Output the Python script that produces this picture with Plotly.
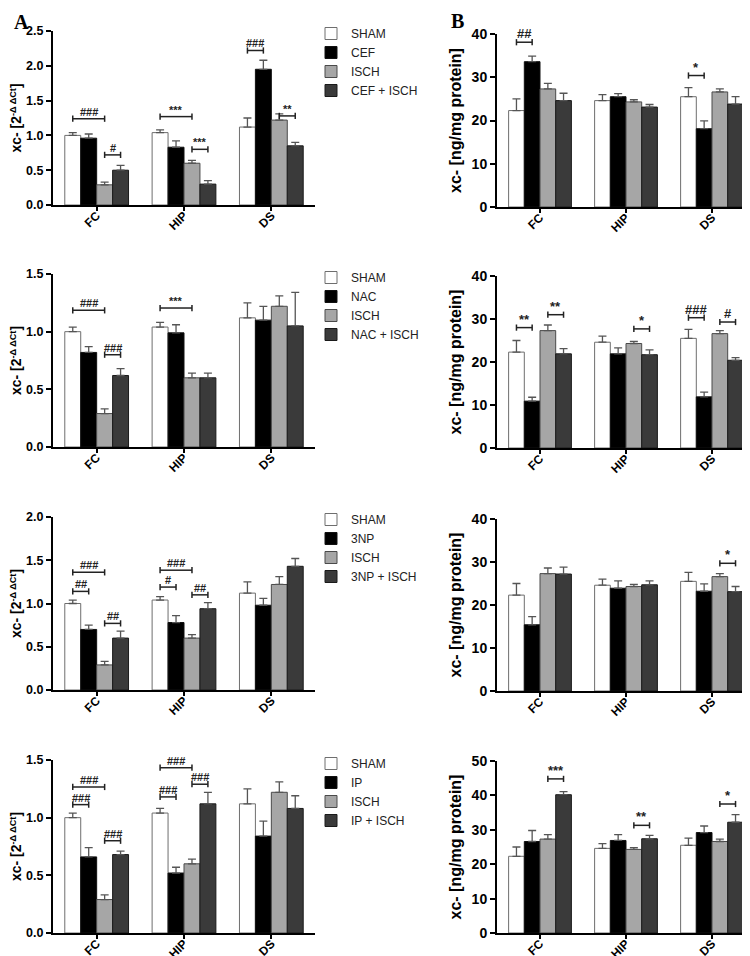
import plotly.graph_objects as go

# ---------------- data ----------------
regions = ["FC", "HIP", "DS"]
treatments = ["CEF", "NAC", "3NP", "IP"]

# shared control groups (same animals in every row)
sham_a = [1.00, 1.04, 1.12]
sham_a_sem = [0.04, 0.04, 0.13]
isch_a = [0.29, 0.60, 1.22]
isch_a_sem = [0.04, 0.04, 0.09]
sham_b = [22.3, 24.6, 25.5]
sham_b_sem = [2.7, 1.4, 2.1]
isch_b = [27.3, 24.3, 26.6]
isch_b_sem = [1.3, 0.5, 0.7]

# treatment groups, panel A (2^-ddCt)
cef_a = [0.96, 0.83, 1.95]
cef_a_sem = [0.06, 0.09, 0.13]
cef_isch_a = [0.50, 0.30, 0.85]
cef_isch_a_sem = [0.07, 0.05, 0.05]
nac_a = [0.82, 0.99, 1.10]
nac_a_sem = [0.05, 0.07, 0.12]
nac_isch_a = [0.62, 0.60, 1.05]
nac_isch_a_sem = [0.06, 0.04, 0.29]
np3_a = [0.70, 0.78, 0.98]
np3_a_sem = [0.05, 0.08, 0.08]
np3_isch_a = [0.60, 0.94, 1.43]
np3_isch_a_sem = [0.08, 0.07, 0.09]
ip_a = [0.66, 0.52, 0.84]
ip_a_sem = [0.08, 0.05, 0.13]
ip_isch_a = [0.68, 1.12, 1.08]
ip_isch_a_sem = [0.03, 0.10, 0.11]

# treatment groups, panel B (ng/mg protein)
cef_b = [33.6, 25.5, 18.1]
cef_b_sem = [1.3, 0.7, 1.8]
cef_isch_b = [24.6, 23.1, 23.8]
cef_isch_b_sem = [1.7, 0.6, 1.7]
nac_b = [10.9, 21.9, 11.9]
nac_b_sem = [0.9, 1.4, 1.1]
nac_isch_b = [21.9, 21.7, 20.4]
nac_isch_b_sem = [1.2, 1.1, 0.6]
np3_b = [15.4, 23.9, 23.2]
np3_b_sem = [1.9, 1.7, 1.7]
np3_isch_b = [27.2, 24.7, 23.1]
np3_isch_b_sem = [1.6, 0.9, 1.2]
ip_b = [26.6, 26.9, 29.2]
ip_b_sem = [3.2, 1.7, 1.9]
ip_isch_b = [40.2, 27.4, 32.2]
ip_isch_b_sem = [0.9, 1.0, 2.2]

a_ymax = [2.5, 1.5, 2.0, 1.5]
b_ymax = [40, 40, 40, 50]

# significance brackets: (region index, group i, group j, height, label)
brackets_a = [
    [(0, 0, 2, 1.24, "###"), (0, 2, 3, 0.72, "#"), (1, 0, 2, 1.27, "***"),
     (1, 2, 3, 0.80, "***"), (2, 0, 1, 2.22, "###"), (2, 2, 3, 1.28, "**")],
    [(0, 0, 2, 1.185, "###"), (0, 2, 3, 0.80, "###"), (1, 0, 2, 1.205, "***")],
    [(0, 0, 2, 1.36, "###"), (0, 0, 1, 1.14, "##"), (0, 2, 3, 0.77, "##"),
     (1, 0, 2, 1.385, "###"), (1, 0, 1, 1.19, "#"), (1, 2, 3, 1.10, "##")],
    [(0, 0, 2, 1.266, "###"), (0, 0, 1, 1.113, "###"), (0, 2, 3, 0.80, "###"),
     (1, 0, 2, 1.433, "###"), (1, 0, 1, 1.18, "###"), (1, 2, 3, 1.29, "###")],
]
brackets_b = [
    [(0, 0, 1, 38.1, "##"), (2, 0, 1, 30.4, "*")],
    [(0, 0, 1, 28.0, "**"), (0, 2, 3, 31.0, "**"), (1, 2, 3, 27.7, "*"),
     (2, 0, 1, 30.3, "###"), (2, 2, 3, 29.3, "#")],
    [(2, 2, 3, 29.7, "*")],
    [(0, 2, 3, 44.8, "***"), (1, 2, 3, 31.3, "**"), (2, 2, 3, 37.5, "*")],
]

rows_a = [
    [(sham_a, sham_a_sem), (cef_a, cef_a_sem), (isch_a, isch_a_sem), (cef_isch_a, cef_isch_a_sem)],
    [(sham_a, sham_a_sem), (nac_a, nac_a_sem), (isch_a, isch_a_sem), (nac_isch_a, nac_isch_a_sem)],
    [(sham_a, sham_a_sem), (np3_a, np3_a_sem), (isch_a, isch_a_sem), (np3_isch_a, np3_isch_a_sem)],
    [(sham_a, sham_a_sem), (ip_a, ip_a_sem), (isch_a, isch_a_sem), (ip_isch_a, ip_isch_a_sem)],
]
rows_b = [
    [(sham_b, sham_b_sem), (cef_b, cef_b_sem), (isch_b, isch_b_sem), (cef_isch_b, cef_isch_b_sem)],
    [(sham_b, sham_b_sem), (nac_b, nac_b_sem), (isch_b, isch_b_sem), (nac_isch_b, nac_isch_b_sem)],
    [(sham_b, sham_b_sem), (np3_b, np3_b_sem), (isch_b, isch_b_sem), (np3_isch_b, np3_isch_b_sem)],
    [(sham_b, sham_b_sem), (ip_b, ip_b_sem), (isch_b, isch_b_sem), (ip_isch_b, ip_isch_b_sem)],
]

# ---------------- style ----------------
W, H = 750, 956
FONT = "Liberation Sans, Arial, sans-serif"
fills = ["#ffffff", "#000000", "#a6a6a6", "#3a3a3a"]
outlines = ["#6e6e6e", "#111111", "#4a4a4a", "#1a1a1a"]
BARGAP = 0.27
bw = (1 - BARGAP) / 4

left_x = [45, 307]
right_x = [489, 747]
left_y = [(23, 197), (266, 439), (509, 682), (752, 925)]
right_y = [(26, 199), (268, 440), (511, 683), (753, 925)]
legend_tops = [11, 255, 497, 741]


def xdom(px):
    return [px[0] / W, px[1] / W]


def ydom(py):
    return [1 - py[1] / H, 1 - py[0] / H]


fig = go.Figure()
layout = {}
shapes = []
annotations = []
xpos = list(range(len(regions)))

left_title = 'xc- [2<span style="font-size:13px"><sup>-Δ ΔCt</sup></span>]'

for r in range(4):
    legname = "legend" if r == 0 else f"legend{r + 1}"
    names = ["SHAM", treatments[r], "ISCH", f"{treatments[r]} + ISCH"]
    for side in range(2):
        n = r * 2 + side + 1
        xa = "x" if n == 1 else f"x{n}"
        ya = "y" if n == 1 else f"y{n}"
        data = rows_a[r] if side == 0 else rows_b[r]
        for k, (vals, sem) in enumerate(data):
            fig.add_trace(go.Bar(
                x=xpos, y=vals, name=names[k],
                marker=dict(color=fills[k], line=dict(color=outlines[k], width=1)),
                error_y=dict(type="data", symmetric=False, array=sem,
                             arrayminus=[0] * len(sem), color="#555555",
                             thickness=1.3, width=4),
                xaxis=xa, yaxis=ya, legend=legname,
                showlegend=(side == 0),
            ))
        ymax = a_ymax[r] if side == 0 else b_ymax[r]
        tick_size = 12.5 if side == 0 else 14
        title = left_title if side == 0 else "xc- [ng/mg protein]"
        layout[f"xaxis{n}"] = dict(
            domain=xdom(left_x if side == 0 else right_x), anchor=ya,
            range=[-0.5, 2.5], tickvals=xpos, ticktext=regions, tickangle=-45,
            showline=True, linewidth=2, linecolor="black", ticks="outside",
            ticklen=4, tickwidth=1.5, tickcolor="black", showgrid=False,
            zeroline=False, automargin=False, ticklabelstandoff=-7,
            tickfont=dict(family=FONT, size=12, color="black", weight="bold"),
        )
        layout[f"yaxis{n}"] = dict(
            domain=ydom(left_y[r] if side == 0 else right_y[r]), anchor=xa,
            range=[0, ymax], dtick=(0.5 if side == 0 else 10),
            tickformat=(".1f" if side == 0 else "d"),
            showline=True, linewidth=2, linecolor="black", ticks="outside",
            ticklen=5, tickwidth=2, tickcolor="black", showgrid=False, zeroline=False,
            automargin=False,
            tickfont=dict(family=FONT, size=tick_size, color="black", weight="bold"),
            title=dict(text=title, standoff=6,
                       font=dict(family=FONT, size=(14 if side == 0 else 16),
                                 color="black", weight="bold")),
        )
        brs = brackets_a[r] if side == 0 else brackets_b[r]
        cap = ymax * 0.018
        for (ri, g1, g2, yv, lab) in brs:
            x0 = ri + (g1 - 1.5) * bw
            x1 = ri + (g2 - 1.5) * bw
            line = dict(color="#222222", width=1.5)
            shapes.append(dict(type="line", xref=xa, yref=ya, x0=x0, x1=x1, y0=yv, y1=yv, line=line))
            shapes.append(dict(type="line", xref=xa, yref=ya, x0=x0, x1=x0, y0=yv - cap, y1=yv + cap, line=line))
            shapes.append(dict(type="line", xref=xa, yref=ya, x0=x1, x1=x1, y0=yv - cap, y1=yv + cap, line=line))
            annotations.append(dict(
                x=(x0 + x1) / 2, y=yv, xref=xa, yref=ya, text=lab, showarrow=False,
                yanchor="bottom", yshift=-1,
                font=dict(family=FONT, size=(11 if side == 0 else 13), color="#222222", weight="bold"),
            ))
    layout[legname] = dict(
        x=303 / W, y=1 - legend_tops[r] / H, xanchor="left", yanchor="top",
        bgcolor="rgba(0,0,0,0)", tracegroupgap=0,
        font=dict(family=FONT, size=12, color="#222222"),
    )

annotations.append(dict(x=4 / W, y=1 - 1 / H, xref="paper", yref="paper", text="<b>A</b>",
                        showarrow=False, xanchor="left", yanchor="top",
                        font=dict(family="Liberation Serif, Times New Roman, serif", size=20, color="black")))
annotations.append(dict(x=441 / W, y=1 - 0 / H, xref="paper", yref="paper", text="<b>B</b>",
                        showarrow=False, xanchor="left", yanchor="top",
                        font=dict(family="Liberation Serif, Times New Roman, serif", size=20, color="black")))

fig.update_layout(
    template="none",
    width=W, height=H, margin=dict(l=0, r=0, t=0, b=0, autoexpand=False),
    font=dict(family=FONT, color="black"),
    barmode="group", bargap=BARGAP, bargroupgap=0,
    plot_bgcolor="white", paper_bgcolor="white",
    shapes=shapes, annotations=annotations,
    **layout,
)

fig.write_html("out.html")
